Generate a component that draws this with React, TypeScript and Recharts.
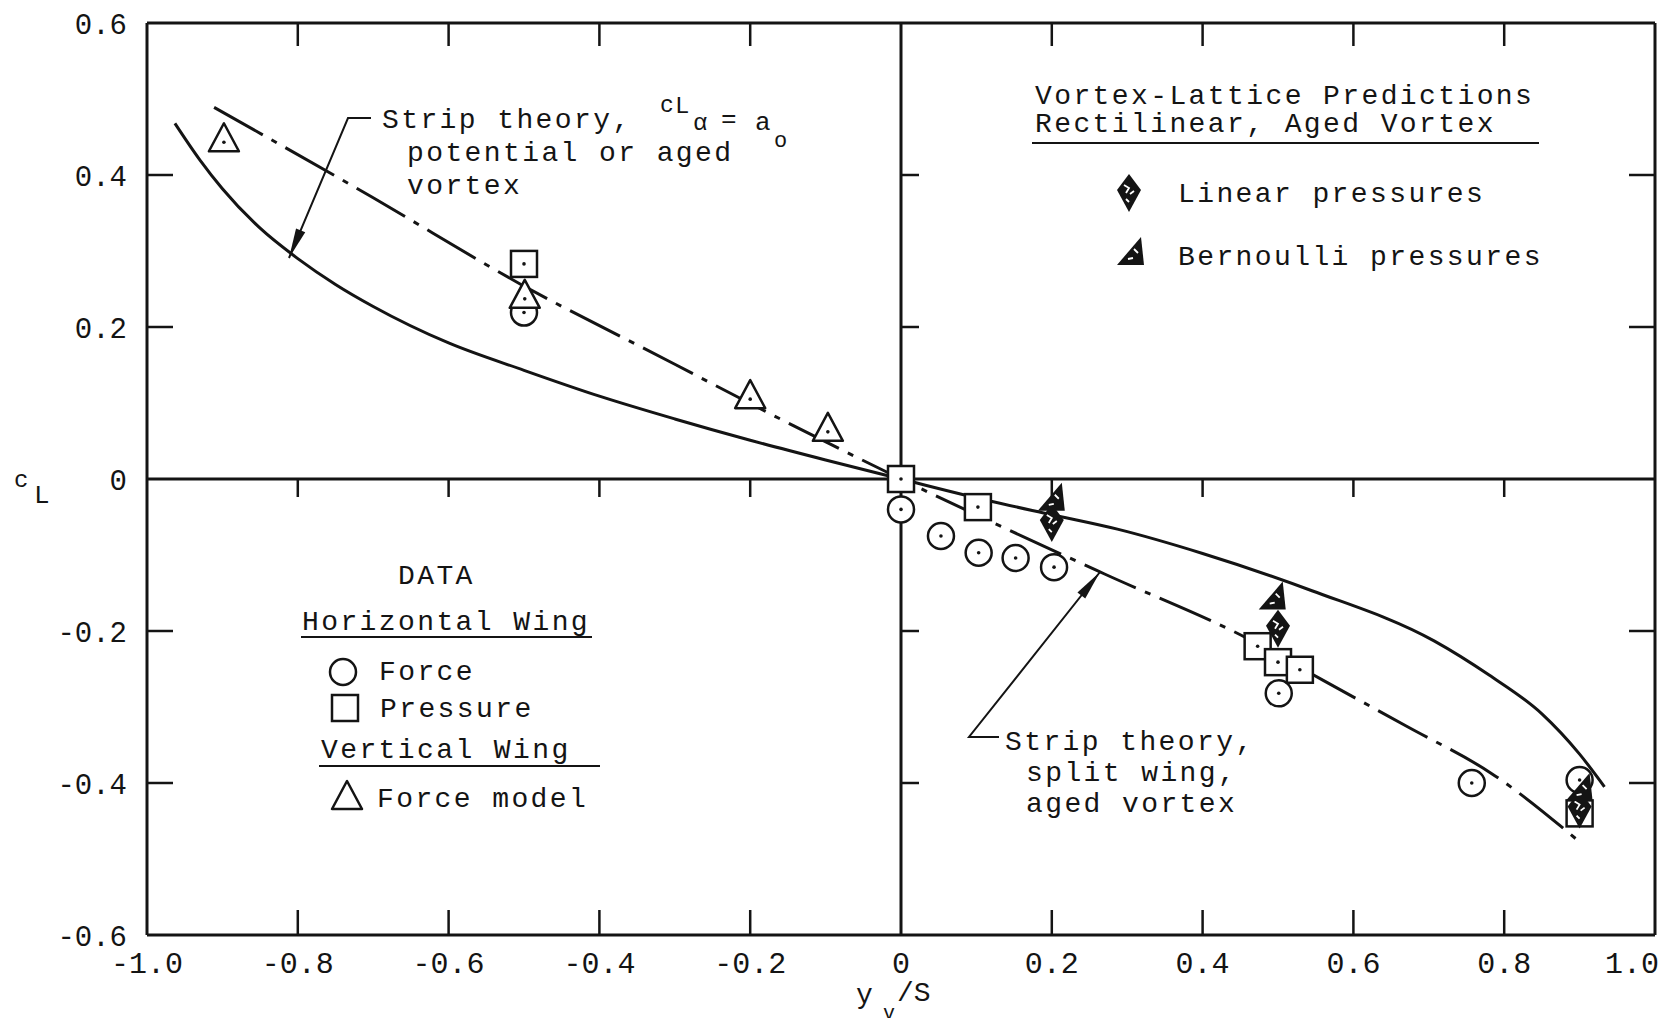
import React from "react";
import { ComposedChart, Line, Scatter, XAxis, YAxis, ReferenceLine } from "recharts";

// axis ticks
const xTickValues = [-1, -0.8, -0.6, -0.4, -0.2, 0, 0.2, 0.4, 0.6, 0.8, 1];
const yTickValues = [-0.6, -0.4, -0.2, 0, 0.2, 0.4, 0.6];
const innerXTicks = [-0.8, -0.6, -0.4, -0.2, 0.2, 0.4, 0.6, 0.8];
const innerYTicks = [-0.4, -0.2, 0.2, 0.4];

// strip theory, cLa = ao, potential or aged vortex
const stripPotential = [
  { x: -0.963, y: 0.468 },
  { x: -0.93, y: 0.42 },
  { x: -0.9, y: 0.382 },
  { x: -0.85, y: 0.33 },
  { x: -0.8, y: 0.29 },
  { x: -0.75, y: 0.256 },
  { x: -0.7, y: 0.227 },
  { x: -0.6, y: 0.179 },
  { x: -0.5, y: 0.143 },
  { x: -0.4, y: 0.109 },
  { x: -0.3, y: 0.079 },
  { x: -0.2, y: 0.051 },
  { x: -0.1, y: 0.025 },
  { x: 0, y: 0 },
  { x: 0.118, y: -0.029 },
  { x: 0.2, y: -0.047 },
  { x: 0.287, y: -0.066 },
  { x: 0.4, y: -0.098 },
  { x: 0.545, y: -0.147 },
  { x: 0.707, y: -0.213 },
  { x: 0.78, y: -0.258 },
  { x: 0.85, y: -0.309 },
  { x: 0.9, y: -0.362 },
  { x: 0.933, y: -0.405 },
];

// strip theory, split wing, aged vortex
const stripSplitWing = [
  { x: -0.911, y: 0.489 },
  { x: -0.7, y: 0.37 },
  { x: -0.504, y: 0.256 },
  { x: -0.3, y: 0.151 },
  { x: -0.172, y: 0.085 },
  { x: 0, y: 0 },
  { x: 0.27, y: -0.125 },
  { x: 0.46, y: -0.21 },
  { x: 0.56, y: -0.265 },
  { x: 0.67, y: -0.325 },
  { x: 0.784, y: -0.388 },
  { x: 0.903, y: -0.48 },
];

// horizontal wing, force
const horizForce = [
  { x: -0.5, y: 0.219 },
  { x: 0, y: -0.04 },
  { x: 0.053, y: -0.075 },
  { x: 0.103, y: -0.097 },
  { x: 0.152, y: -0.104 },
  { x: 0.203, y: -0.116 },
  { x: 0.501, y: -0.282 },
  { x: 0.757, y: -0.4 },
  { x: 0.9, y: -0.396 },
];

// horizontal wing, pressure
const horizPressure = [
  { x: -0.5, y: 0.283 },
  { x: 0, y: 0 },
  { x: 0.102, y: -0.037 },
  { x: 0.473, y: -0.22 },
  { x: 0.5, y: -0.241 },
  { x: 0.529, y: -0.251 },
  { x: 0.9, y: -0.44 },
];

// vertical wing, force model
const verticalForce = [
  { x: -0.898, y: 0.447 },
  { x: -0.499, y: 0.241 },
  { x: -0.2, y: 0.109 },
  { x: -0.097, y: 0.066 },
];

// vortex-lattice predictions
const vlmLinear = [
  { x: 0.2, y: -0.058 },
  { x: 0.5, y: -0.197 },
  { x: 0.9, y: -0.435 },
];
const vlmBernoulli = [
  { x: 0.2, y: -0.026 },
  { x: 0.493, y: -0.156 },
  { x: 0.9, y: -0.408 },
];

const ink = "#141414";
const mono = "'Liberation Mono', 'Courier New', monospace";

const fmt = (v: number) => (v === 0 ? "0" : v.toFixed(1));

const XTick = ({ x, y, payload }: any) => {
  const last = payload.value === 1;
  return (
    <text
      x={last ? x + 4 : x}
      y={y + 38}
      textAnchor={last ? "end" : "middle"}
      fontFamily={mono}
      fontSize={30}
      fill={ink}
    >
      {fmt(payload.value)}
    </text>
  );
};

const YTick = ({ x, y, payload }: any) => (
  <text x={x - 20} y={y + 11} textAnchor="end" fontFamily={mono} fontSize={29} fill={ink}>
    {fmt(payload.value)}
  </text>
);

const tickMark = (dx: number, dy: number) => (p: any) => (
  <line x1={p.cx} y1={p.cy} x2={p.cx + dx} y2={p.cy + dy} stroke={ink} strokeWidth={2.5} />
);

const CircleMark = ({ cx, cy, dot = true }: any) => (
  <g>
    <circle cx={cx} cy={cy} r={13} fill="#fff" stroke={ink} strokeWidth={2.5} />
    {dot && <circle cx={cx} cy={cy} r={1.8} fill={ink} />}
  </g>
);

const SquareMark = ({ cx, cy, dot = true }: any) => (
  <g>
    <rect x={cx - 13} y={cy - 13} width={26} height={26} fill="#fff" stroke={ink} strokeWidth={2.5} />
    {dot && <circle cx={cx} cy={cy} r={1.8} fill={ink} />}
  </g>
);

const TriangleMark = ({ cx, cy, dot = true }: any) => (
  <g>
    <polygon
      points={`${cx},${cy - 16} ${cx - 15},${cy + 12} ${cx + 15},${cy + 12}`}
      fill="#fff"
      stroke={ink}
      strokeWidth={2.5}
      strokeLinejoin="round"
    />
    {dot && <circle cx={cx} cy={cy + 3} r={1.8} fill={ink} />}
  </g>
);

// blotchy filled diamond
const LinearMark = ({ cx, cy }: any) => (
  <g>
    <polygon points={`${cx},${cy - 19} ${cx + 12},${cy - 3} ${cx},${cy + 19} ${cx - 12},${cy - 3}`} fill={ink} />
    <path
      d={`M${cx - 5},${cy - 8} l5,3 l-3,5 M${cx + 1},${cy + 1} l4,-3 M${cx - 3},${cy + 6} l3,3`}
      stroke="#fff"
      strokeWidth={1.8}
      fill="none"
    />
  </g>
);

// blotchy filled flag triangle
const BernoulliMark = ({ cx, cy }: any) => (
  <g>
    <polygon points={`${cx + 10},${cy - 16} ${cx + 13},${cy + 12} ${cx - 14},${cy + 12}`} fill={ink} />
    <path d={`M${cx + 3},${cy - 4} l4,4 M${cx - 3},${cy + 6} l5,-1`} stroke="#fff" strokeWidth={1.8} fill="none" />
  </g>
);

const T = ({ x, y, size = 28, spacing = 2.4, children }: any) => (
  <text x={x} y={y} fontFamily={mono} fontSize={size} letterSpacing={spacing} fill={ink}>
    {children}
  </text>
);

// leader line ending in a narrow arrowhead
const Leader = ({ pts }: { pts: number[][] }) => {
  const [a, b] = [pts[pts.length - 2], pts[pts.length - 1]];
  const len = Math.hypot(b[0] - a[0], b[1] - a[1]);
  const ux = (b[0] - a[0]) / len;
  const uy = (b[1] - a[1]) / len;
  const L = 30;
  const W = 5;
  const head = [
    [b[0], b[1]],
    [b[0] - ux * L - uy * W, b[1] - uy * L + ux * W],
    [b[0] - ux * L + uy * W, b[1] - uy * L - ux * W],
  ];
  return (
    <g>
      <polyline points={pts.map((p) => p.join(",")).join(" ")} fill="none" stroke={ink} strokeWidth={2} />
      <polygon points={head.map((p) => p.join(",")).join(" ")} fill={ink} />
    </g>
  );
};

const Annotations = () => (
  <svg
    width={1666}
    height={1026}
    style={{ position: "absolute", left: -8, top: -8, pointerEvents: "none" }}
  >
    {/* strip theory, potential or aged vortex */}
    <Leader pts={[[371, 118], [348, 118], [289, 258]]} />
    <T x={382} y={128}>Strip theory,</T>
    <T x={660} y={112} size={23}>c</T>
    <T x={675} y={113} size={24}>L</T>
    <T x={693} y={130} size={24}>α</T>
    <T x={721} y={127} size={26}>=</T>
    <T x={755} y={130} size={26}>a</T>
    <T x={774} y={147} size={22}>o</T>
    <T x={407} y={161}>potential or aged</T>
    <T x={407} y={194}>vortex</T>

    {/* strip theory, split wing */}
    <Leader pts={[[999, 737], [969, 737], [1100, 572]]} />
    <T x={1005} y={750}>Strip theory,</T>
    <T x={1026} y={781}>split wing,</T>
    <T x={1026} y={812}>aged vortex</T>

    {/* vortex-lattice key */}
    <T x={1035} y={104}>Vortex-Lattice Predictions</T>
    <T x={1035} y={132}>Rectilinear, Aged Vortex</T>
    <line x1={1032} y1={143} x2={1539} y2={143} stroke={ink} strokeWidth={2} />
    <LinearMark cx={1129} cy={193} />
    <T x={1178} y={202}>Linear pressures</T>
    <BernoulliMark cx={1131} cy={253} />
    <T x={1178} y={265}>Bernoulli pressures</T>

    {/* data key */}
    <T x={398} y={584}>DATA</T>
    <T x={302} y={630}>Horizontal Wing</T>
    <line x1={301} y1={637} x2={592} y2={637} stroke={ink} strokeWidth={2} />
    <CircleMark cx={343} cy={672} dot={false} />
    <T x={379} y={680}>Force</T>
    <SquareMark cx={345} cy={708} dot={false} />
    <T x={380} y={717}>Pressure</T>
    <T x={321} y={758}>Vertical Wing</T>
    <line x1={319} y1={766} x2={600} y2={766} stroke={ink} strokeWidth={2} />
    <TriangleMark cx={347} cy={797} dot={false} />
    <T x={377} y={807}>Force model</T>

    {/* axis titles */}
    <T x={14} y={487} size={24} spacing={0}>c</T>
    <T x={34} y={503} size={26} spacing={0}>L</T>
    <T x={856} y={1003} size={28} spacing={0}>y</T>
    <T x={883} y={1019} size={20} spacing={0}>v</T>
    <T x={897} y={1001} size={28} spacing={0}>/S</T>
  </svg>
);

export default function App() {
  const ref = (v: number, axis: "x" | "y") =>
    axis === "x" ? (
      <ReferenceLine key={`x${v}`} x={v} stroke={ink} strokeWidth={3} ifOverflow="visible" />
    ) : (
      <ReferenceLine key={`y${v}`} y={v} stroke={ink} strokeWidth={3} ifOverflow="visible" />
    );

  return (
    <div style={{ position: "relative", width: 1650, height: 1010, background: "#fff" }}>
      <ComposedChart width={1650} height={1010} margin={{ top: 15, right: 3, left: 0, bottom: 0 }}>
        <XAxis
          type="number"
          dataKey="x"
          domain={[-1, 1]}
          ticks={xTickValues}
          interval={0}
          height={83}
          axisLine={false}
          tickLine={false}
          tickSize={0}
          tickMargin={0}
          tick={<XTick />}
        />
        <YAxis
          type="number"
          dataKey="y"
          domain={[-0.6, 0.6]}
          ticks={yTickValues}
          interval={0}
          width={139}
          axisLine={false}
          tickLine={false}
          tickSize={0}
          tickMargin={0}
          tick={<YTick />}
        />
        {ref(-1, "x")}
        {ref(1, "x")}
        {ref(0, "x")}
        {ref(0.6, "y")}
        {ref(-0.6, "y")}
        {ref(0, "y")}

        {/* inward tick marks on the frame and the zero lines */}
        <Scatter data={innerXTicks.map((x) => ({ x, y: 0.6 }))} dataKey="y" shape={tickMark(0, 23)} isAnimationActive={false} />
        <Scatter data={innerXTicks.map((x) => ({ x, y: -0.6 }))} dataKey="y" shape={tickMark(0, -25)} isAnimationActive={false} />
        <Scatter data={innerXTicks.map((x) => ({ x, y: 0 }))} dataKey="y" shape={tickMark(0, 18)} isAnimationActive={false} />
        <Scatter data={innerYTicks.map((y) => ({ x: -1, y }))} dataKey="y" shape={tickMark(26, 0)} isAnimationActive={false} />
        <Scatter data={innerYTicks.map((y) => ({ x: 1, y }))} dataKey="y" shape={tickMark(-26, 0)} isAnimationActive={false} />
        <Scatter data={innerYTicks.map((y) => ({ x: 0, y }))} dataKey="y" shape={tickMark(18, 0)} isAnimationActive={false} />

        <Line
          data={stripPotential}
          dataKey="y"
          type="monotone"
          stroke={ink}
          strokeWidth={3}
          dot={false}
          isAnimationActive={false}
        />
        <Line
          data={stripSplitWing}
          dataKey="y"
          type="monotone"
          stroke={ink}
          strokeWidth={3}
          strokeDasharray="56 10 6 10"
          dot={false}
          isAnimationActive={false}
        />

        <Scatter data={horizForce} dataKey="y" shape={(p: any) => <CircleMark cx={p.cx} cy={p.cy} />} isAnimationActive={false} />
        <Scatter data={horizPressure} dataKey="y" shape={(p: any) => <SquareMark cx={p.cx} cy={p.cy} />} isAnimationActive={false} />
        <Scatter data={verticalForce} dataKey="y" shape={(p: any) => <TriangleMark cx={p.cx} cy={p.cy} />} isAnimationActive={false} />
        <Scatter data={vlmLinear} dataKey="y" shape={(p: any) => <LinearMark cx={p.cx} cy={p.cy} />} isAnimationActive={false} />
        <Scatter data={vlmBernoulli} dataKey="y" shape={(p: any) => <BernoulliMark cx={p.cx} cy={p.cy} />} isAnimationActive={false} />
      </ComposedChart>
      <Annotations />
    </div>
  );
}
